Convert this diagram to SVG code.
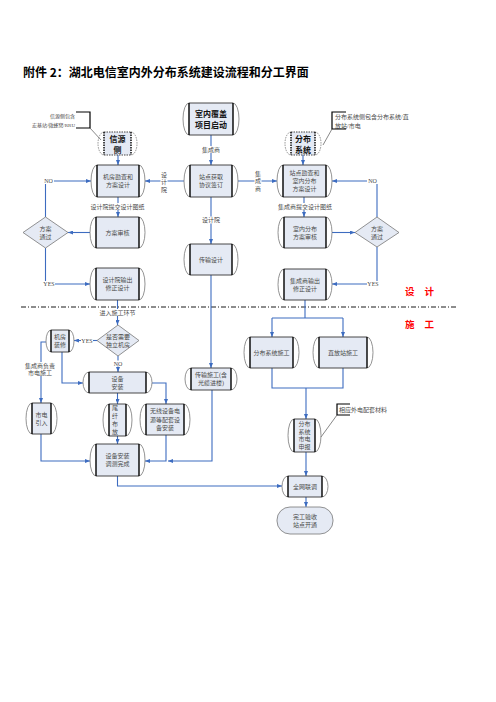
<svg xmlns="http://www.w3.org/2000/svg" width="496" height="702" viewBox="0 0 496 702">
<defs>
<marker id="ah" viewBox="0 0 10 8" refX="10" refY="4" markerWidth="5" markerHeight="4" markerUnits="userSpaceOnUse" orient="auto"><path d="M0,0 L10,4 L0,8 z" fill="#3D6CC0"/></marker>
</defs>
<style>
text{font-family:"Liberation Serif","Noto Sans CJK SC",serif;fill:#4a4a4a;font-size:6px;text-anchor:middle;dominant-baseline:central}
.title{font-family:"Noto Sans CJK SC",sans-serif;font-size:12px;font-weight:bold;fill:#000;text-anchor:start;dominant-baseline:auto}
.b{font-family:"Noto Sans CJK SC",sans-serif;font-size:8px;font-weight:bold;fill:#111}
.fill{fill:#E5EAF4}
.arc{fill:none;stroke:#777;stroke-width:0.8}
.edge{fill:none;stroke:#333;stroke-width:0.9}
.bar{fill:none;stroke:#000;stroke-width:1.4}
.dash .arc,.dash .edge,.dash .bar{stroke-dasharray:1.5,1}
.dia{fill:#E5EAF4;stroke:#777;stroke-width:0.8}
.c{fill:none;stroke:#3D6CC0;stroke-width:1.1}
.ca{fill:none;stroke:#3D6CC0;stroke-width:1.1;marker-end:url(#ah)}
.bg{fill:#fff}
.red{font-family:"Noto Sans CJK SC",sans-serif;font-size:9.5px;font-weight:bold;fill:#FF0000;letter-spacing:10px;text-anchor:start}
.ann{fill:none;stroke:#000;stroke-width:1.2}
.annl{fill:none;stroke:#555;stroke-width:0.7}
.at{text-anchor:end;font-size:5px}
.al{text-anchor:start}
.sep{fill:none;stroke:#000;stroke-width:0.9;stroke-dasharray:5,2,1,2}
</style>

<text class="title" x="23" y="77">附件 2：湖北电信室内外分布系统建设流程和分工界面</text>

<line class="sep" x1="21" y1="307" x2="457" y2="307"/>
<text class="red" x="405" y="291">设计</text>
<text class="red" x="405" y="324">施工</text>

<g id="connectors">
<path class="ca" d="M211,135 V165"/>
<path class="ca" d="M118,155 V165"/>
<path class="ca" d="M303,155 V165"/>
<path class="ca" d="M184,181 H145"/>
<path class="ca" d="M238,181 H277"/>
<path class="ca" d="M118,197 V217"/>
<path class="ca" d="M90,232.5 H68"/>
<path class="ca" d="M45.5,217 V181 H91"/>
<path class="ca" d="M45.5,248 V284 H90"/>
<path class="ca" d="M211,197 V244"/>
<path class="ca" d="M304,197 V217"/>
<path class="ca" d="M332,232.5 H355"/>
<path class="ca" d="M377,217 V181 H332"/>
<path class="ca" d="M377,247 V284 H332"/>
<path class="ca" d="M117.5,300 V325"/>
<path class="ca" d="M211,275 V368"/>
<path class="c" d="M305,300 V318 M272,318 H343"/>
<path class="ca" d="M272,318 V337"/>
<path class="ca" d="M343,318 V337"/>
<path class="ca" d="M97,340.5 H74"/>
<path class="ca" d="M118,356 V372"/>
<path class="ca" d="M46,342 H41 V403"/>
<path class="ca" d="M62,352 V383 H83"/>
<path class="ca" d="M117.5,393 V404"/>
<path class="ca" d="M152,383 H166 V404"/>
<path class="ca" d="M41,434 V461 H90"/>
<path class="ca" d="M117.5,436 V444"/>
<path class="ca" d="M166,435 V461 H145"/>
<path class="ca" d="M212,390 V461 H168"/>
<path class="c" d="M272,368 V388 H343 V368"/>
<path class="ca" d="M306,388 V419"/>
<path class="ca" d="M306,452 V476"/>
<path class="ca" d="M117.5,476 V486 H282"/>
<path class="ca" d="M306,497 V507"/>

<rect class="bg" x="201.5" y="146" width="19" height="7"/><text x="211" y="149.5">集成商</text>
<rect class="bg" x="201.5" y="216.5" width="19" height="7"/><text x="211" y="220">设计院</text>
<rect class="bg" x="160.5" y="171" width="7" height="22"/>
<text x="164" y="174.5">设</text><text x="164" y="182">计</text><text x="164" y="189.5">院</text>
<rect class="bg" x="254.5" y="170" width="7" height="22"/>
<text x="258" y="173.5">集</text><text x="258" y="181">成</text><text x="258" y="188.5">商</text>
<rect class="bg" x="89.5" y="203" width="56" height="7"/><text x="117.5" y="206.5">设计院提交设计图纸</text>
<rect class="bg" x="277" y="203" width="56" height="7"/><text x="305" y="206.5">集成商提交设计图纸</text>
<rect class="bg" x="99" y="309" width="37" height="7"/><text x="117.5" y="312.5">进入施工环节</text>
<rect class="bg" x="43" y="178" width="11" height="6"/><text x="48.5" y="181">NO</text>
<rect class="bg" x="367" y="178" width="11" height="6"/><text x="372.5" y="181">NO</text>
<rect class="bg" x="43" y="281" width="12" height="6"/><text x="49" y="284">YES</text>
<rect class="bg" x="367" y="281" width="12" height="6"/><text x="373" y="284">YES</text>
<rect class="bg" x="81" y="337.5" width="12" height="6"/><text x="87" y="340.5">YES</text>
<rect class="bg" x="113" y="360.5" width="10" height="6"/><text x="118" y="363.5">NO</text>
<rect class="bg" x="25" y="362" width="30" height="14"/>
<text x="40" y="365.5">集成商负责</text><text x="40" y="373">市电施工</text>
</g>

<g id="ann_xinyuan">
<text class="at" x="75" y="116">信源侧包含</text>
<text class="at" x="75" y="125">宏基站/微蜂窝/RRU</text>
<path class="ann" d="M76,112 H90 V128 H76"/>
<path class="annl" d="M90,128 L101,140"/>
</g>
<g id="ann_fenbu">
<text class="al" x="335" y="117">分布系统侧包含分布系统/直</text>
<text class="al" x="335" y="125.5">放站/市电</text>
<path class="ann" d="M346,112 H332 V129 H346"/>
<path class="annl" d="M332,129 L323,145"/>
</g>
<g id="ann_waidian">
<text class="al" x="339" y="409.5">相应外电配套材料</text>
<path class="ann" d="M350,404 H337 V415 H350"/>
<path class="annl" d="M337,415 L321,437"/>
</g>

<g id="n_start">
<rect class="fill" x="189" y="103" width="44" height="32"/>
<path class="arc" d="M189,103 A6,16 0 0 0 189,135 M233,103 A6,16 0 0 1 233,135"/>
<path class="edge" d="M189,103 H233 M189,135 H233"/>
<path class="bar" d="M189,103 V135 M233,103 V135"/>
<text class="b" x="211" y="113">室内覆盖</text><text class="b" x="211" y="124">项目启动</text>
</g>
<g id="n_xinyuan" class="dash">
<rect class="fill" x="104" y="132" width="27" height="23"/>
<path class="arc" d="M104,132 A6,11.5 0 0 0 104,155 M131,132 A6,11.5 0 0 1 131,155"/>
<path class="edge" d="M104,132 H131 M104,155 H131"/>
<path class="bar" d="M104,132 V155 M131,132 V155"/>
<text class="b" x="117.5" y="138">信源</text><text class="b" x="117.5" y="149.5">侧</text>
</g>
<g id="n_fenbu" class="dash">
<rect class="fill" x="291" y="132" width="24" height="23"/>
<path class="arc" d="M291,132 A6,11.5 0 0 0 291,155 M315,132 A6,11.5 0 0 1 315,155"/>
<path class="edge" d="M291,132 H315 M291,155 H315"/>
<path class="bar" d="M291,132 V155 M315,132 V155"/>
<text class="b" x="303" y="138">分布</text><text class="b" x="303" y="149.5">系统</text>
</g>
<g id="n_jifang">
<rect class="fill" x="97" y="165" width="42" height="32"/>
<path class="arc" d="M97,165 A6,16 0 0 0 97,197 M139,165 A6,16 0 0 1 139,197"/>
<path class="edge" d="M97,165 H139 M97,197 H139"/>
<path class="bar" d="M97,165 V197 M139,165 V197"/>
<text x="118" y="177">机房勘查和</text><text x="118" y="185">方案设计</text>
</g>
<g id="n_zhandian">
<rect class="fill" x="190" y="165" width="42" height="32"/>
<path class="arc" d="M190,165 A6,16 0 0 0 190,197 M232,165 A6,16 0 0 1 232,197"/>
<path class="edge" d="M190,165 H232 M190,197 H232"/>
<path class="bar" d="M190,165 V197 M232,165 V197"/>
<text x="211" y="177">站点获取</text><text x="211" y="185">协议签订</text>
</g>
<g id="n_shinei">
<rect class="fill" x="283" y="165" width="43" height="32"/>
<path class="arc" d="M283,165 A6,16 0 0 0 283,197 M326,165 A6,16 0 0 1 326,197"/>
<path class="edge" d="M283,165 H326 M283,197 H326"/>
<path class="bar" d="M283,165 V197 M326,165 V197"/>
<text x="304.5" y="173">站点勘查和</text><text x="304.5" y="181">室内分布</text><text x="304.5" y="189">方案设计</text>
</g>
<g id="n_fash1">
<rect class="fill" x="96" y="217" width="43" height="31"/>
<path class="arc" d="M96,217 A6,15.5 0 0 0 96,248 M139,217 A6,15.5 0 0 1 139,248"/>
<path class="edge" d="M96,217 H139 M96,248 H139"/>
<path class="bar" d="M96,217 V248 M139,217 V248"/>
<text x="117.5" y="232.5">方案审核</text>
</g>
<g id="d_left">
<polygon class="dia" points="23,232.5 45.5,217 68,232.5 45.5,248"/>
<text x="45.5" y="228.5">方案</text><text x="45.5" y="236.5">通过</text>
</g>
<g id="n_fash2">
<rect class="fill" x="284" y="217" width="42" height="31"/>
<path class="arc" d="M284,217 A6,15.5 0 0 0 284,248 M326,217 A6,15.5 0 0 1 326,248"/>
<path class="edge" d="M284,217 H326 M284,248 H326"/>
<path class="bar" d="M284,217 V248 M326,217 V248"/>
<text x="305" y="228.5">室内分布</text><text x="305" y="236.5">方案审核</text>
</g>
<g id="d_right">
<polygon class="dia" points="355,232.5 377,217 399,232.5 377,247"/>
<text x="377" y="228.5">方案</text><text x="377" y="236.5">通过</text>
</g>
<g id="n_chuanshu">
<rect class="fill" x="190" y="244" width="42" height="31"/>
<path class="arc" d="M190,244 A6,15.5 0 0 0 190,275 M232,244 A6,15.5 0 0 1 232,275"/>
<path class="edge" d="M190,244 H232 M190,275 H232"/>
<path class="bar" d="M190,244 V275 M232,244 V275"/>
<text x="211" y="259.5">传输设计</text>
</g>
<g id="n_sjyxz">
<rect class="fill" x="96" y="268" width="43" height="32"/>
<path class="arc" d="M96,268 A6,16 0 0 0 96,300 M139,268 A6,16 0 0 1 139,300"/>
<path class="edge" d="M96,268 H139 M96,300 H139"/>
<path class="bar" d="M96,268 V300 M139,268 V300"/>
<text x="117.5" y="280">设计院输出</text><text x="117.5" y="288">修正设计</text>
</g>
<g id="n_jcsxz">
<rect class="fill" x="284" y="269" width="42" height="31"/>
<path class="arc" d="M284,269 A6,15.5 0 0 0 284,300 M326,269 A6,15.5 0 0 1 326,300"/>
<path class="edge" d="M284,269 H326 M284,300 H326"/>
<path class="bar" d="M284,269 V300 M326,269 V300"/>
<text x="305" y="280.5">集成商输出</text><text x="305" y="288.5">修正设计</text>
</g>
<g id="d_dulijf">
<polygon class="dia" points="97,340.5 118,325 139,340.5 118,356"/>
<text x="118" y="336.5">是否需要</text><text x="118" y="344.5">独立机房</text>
</g>
<g id="n_jfzx">
<rect class="fill" x="51" y="330" width="18" height="22"/>
<path class="arc" d="M51,330 A5,11 0 0 0 51,352 M69,330 A5,11 0 0 1 69,352"/>
<path class="edge" d="M51,330 H69 M51,352 H69"/>
<path class="bar" d="M51,330 V352 M69,330 V352"/>
<text x="60" y="337">机房</text><text x="60" y="345">装修</text>
</g>
<g id="n_sbaz">
<rect class="fill" x="89" y="372" width="57" height="21"/>
<path class="arc" d="M89,372 A6,10.5 0 0 0 89,393 M146,372 A6,10.5 0 0 1 146,393"/>
<path class="edge" d="M89,372 H146 M89,393 H146"/>
<path class="bar" d="M89,372 V393 M146,372 V393"/>
<text x="117.5" y="379">设备</text><text x="117.5" y="387">安装</text>
</g>
<g id="n_csgs">
<rect class="fill" x="191" y="368" width="40" height="22"/>
<path class="arc" d="M191,368 A6,11 0 0 0 191,390 M231,368 A6,11 0 0 1 231,390"/>
<path class="edge" d="M191,368 H231 M191,390 H231"/>
<path class="bar" d="M191,368 V390 M231,368 V390"/>
<text x="211" y="375">传输施工(含</text><text x="211" y="383">光缆进楼)</text>
</g>
<g id="n_fbxtsg">
<rect class="fill" x="250" y="337" width="43" height="31"/>
<path class="arc" d="M250,337 A6,15.5 0 0 0 250,368 M293,337 A6,15.5 0 0 1 293,368"/>
<path class="edge" d="M250,337 H293 M250,368 H293"/>
<path class="bar" d="M250,337 V368 M293,337 V368"/>
<text x="271.5" y="352.5">分布系统施工</text>
</g>
<g id="n_zfz">
<rect class="fill" x="319" y="337" width="48" height="31"/>
<path class="arc" d="M319,337 A6,15.5 0 0 0 319,368 M367,337 A6,15.5 0 0 1 367,368"/>
<path class="edge" d="M319,337 H367 M319,368 H367"/>
<path class="bar" d="M319,337 V368 M367,337 V368"/>
<text x="343" y="352.5">直放站施工</text>
</g>
<g id="n_sdyr">
<rect class="fill" x="32" y="403" width="19" height="31"/>
<path class="arc" d="M32,403 A6,15.5 0 0 0 32,434 M51,403 A6,15.5 0 0 1 51,434"/>
<path class="edge" d="M32,403 H51 M32,434 H51"/>
<path class="bar" d="M32,403 V434 M51,403 V434"/>
<text x="41.5" y="414.5">市电</text><text x="41.5" y="422.5">引入</text>
</g>
<g id="n_wxbf">
<rect class="fill" x="109" y="404" width="17" height="32"/>
<path class="arc" d="M109,404 A6,16 0 0 0 109,436 M126,404 A6,16 0 0 1 126,436"/>
<path class="edge" d="M109,404 H126 M109,436 H126"/>
<path class="bar" d="M109,404 V436 M126,404 V436"/>
<text x="115" y="408">尾</text><text x="115" y="416">纤</text><text x="115" y="424">布</text><text x="115" y="432">放</text>
</g>
<g id="n_wxsb">
<rect class="fill" x="146" y="404" width="38" height="31"/>
<path class="arc" d="M146,404 A6,15.5 0 0 0 146,435 M184,404 A6,15.5 0 0 1 184,435"/>
<path class="edge" d="M146,404 H184 M146,435 H184"/>
<path class="bar" d="M146,404 V435 M184,404 V435"/>
<text x="165" y="411">无线设备电</text><text x="165" y="419.5">源等配套设</text><text x="165" y="428">备安装</text>
</g>
<g id="n_tczc">
<rect class="fill" x="96" y="444" width="43" height="32"/>
<path class="arc" d="M96,444 A6,16 0 0 0 96,476 M139,444 A6,16 0 0 1 139,476"/>
<path class="edge" d="M96,444 H139 M96,476 H139"/>
<path class="bar" d="M96,444 V476 M139,444 V476"/>
<text x="117.5" y="456">设备安装</text><text x="117.5" y="464">调测完成</text>
</g>
<g id="n_sdsf">
<rect class="fill" x="294" y="419" width="21" height="33"/>
<path class="arc" d="M294,419 A6,16.5 0 0 0 294,452 M315,419 A6,16.5 0 0 1 315,452"/>
<path class="edge" d="M294,419 H315 M294,452 H315"/>
<path class="bar" d="M294,419 V452 M315,419 V452"/>
<text x="304.5" y="424">分布</text><text x="304.5" y="431.5">系统</text><text x="304.5" y="439">市电</text><text x="304.5" y="446.5">申报</text>
</g>
<g id="n_qwlt">
<rect class="fill" x="288" y="476" width="34" height="21"/>
<path class="arc" d="M288,476 A6,10.5 0 0 0 288,497 M322,476 A6,10.5 0 0 1 322,497"/>
<path class="edge" d="M288,476 H322 M288,497 H322"/>
<path class="bar" d="M288,476 V497 M322,476 V497"/>
<text x="305" y="486.5">全网联调</text>
</g>
<g id="n_wgys">
<rect x="277" y="507" width="56" height="27" rx="13" ry="13" fill="#E5EAF4" stroke="#777" stroke-width="0.8"/>
<text x="305" y="516.5">完工验收</text><text x="305" y="525">站点开通</text>
</g>
</svg>
